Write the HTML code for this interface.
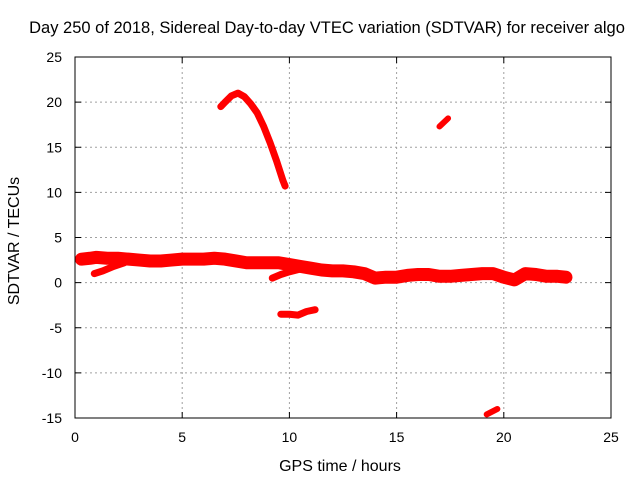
<!DOCTYPE html>
<html><head><meta charset="utf-8"><style>
body{margin:0;background:#fff}
svg{display:block;font-family:"Liberation Sans",sans-serif}
</style></head><body>
<svg id="chart" width="640" height="480">
<text x="327" y="33" font-size="16.5" text-anchor="middle">Day 250 of 2018, Sidereal Day-to-day VTEC variation (SDTVAR) for receiver algo</text>
<g id="grid"></g>
<g id="marks"></g>
<g id="axes"></g>
<text x="340" y="471" font-size="16" text-anchor="middle">GPS time / hours</text>
<text transform="translate(19,241) rotate(-90)" font-size="16" text-anchor="middle">SDTVAR / TECUs</text>
</svg>
<script>
const xTicks=[0,5,10,15,20,25];
const yTicks=[-15,-10,-5,0,5,10,15,20,25];
const mainT=[0.3,0.7,1,1.5,2,2.5,3,3.5,4,4.5,5,5.5,6,6.5,7,7.5,8,8.5,9,9.5,10,10.5,11,11.5,12,12.5,13,13.5,14,14.5,15,15.5,16,16.5,17,17.5,18,18.5,19,19.5,20,20.5,21,21.5,22,22.5,22.9];
const mainV=[2.6,2.7,2.8,2.7,2.7,2.6,2.5,2.4,2.4,2.5,2.6,2.6,2.6,2.7,2.6,2.4,2.2,2.2,2.2,2.2,2.0,1.8,1.6,1.4,1.3,1.3,1.2,1.0,0.5,0.6,0.6,0.8,0.9,0.9,0.7,0.7,0.8,0.9,1.0,1.0,0.6,0.3,1.0,0.9,0.7,0.7,0.6];
const lowT=[0.9,1.3,1.8,2.3];
const lowV=[1.0,1.3,1.8,2.2];
const low2T=[9.2,9.6,10,10.5,11];
const low2V=[0.5,0.9,1.2,1.5,1.8];
const negT=[9.6,10,10.4,10.8,11.2];
const negV=[-3.5,-3.5,-3.6,-3.2,-3.0];
const arcT=[6.8,7.0,7.3,7.6,7.9,8.2,8.5,8.8,9.1,9.4,9.7,9.8];
const arcV=[19.5,20.0,20.7,21.0,20.6,19.8,18.8,17.3,15.5,13.5,11.3,10.7];
const s1T=[17.0,17.4];const s1V=[17.3,18.2];
const s2T=[19.2,19.7];const s2V=[-14.6,-14.0];
const X0=75,X1=611,Y0=418,Y1=57;
const xs=t=>X0+(t-0)/25*(X1-X0);
const ys=v=>Y0-(v+15)/40*(Y0-Y1);
const NS='http://www.w3.org/2000/svg';
function mk(tag,parent,attrs){const e=document.createElementNS(NS,tag);for(const k in attrs)e.setAttribute(k,attrs[k]);parent.appendChild(e);return e;}
const grid=document.getElementById('grid'),axes=document.getElementById('axes'),marks=document.getElementById('marks');
xTicks.forEach(t=>{
 if(t>0&&t<25){const l=mk('line',grid,{x1:xs(t),x2:xs(t),y1:Y1,y2:Y0,stroke:'#a0a0a0','stroke-dasharray':'2,3'});
 
 }
 const tx=mk('text',axes,{x:xs(t),y:442,'font-size':14,'text-anchor':'middle'});tx.textContent=t;
 
 
 mk('line',axes,{x1:xs(t),x2:xs(t),y1:Y0,y2:Y0-6,stroke:'#000'});
 mk('line',axes,{x1:xs(t),x2:xs(t),y1:Y1,y2:Y1+6,stroke:'#000'});
});
yTicks.forEach(v=>{
 if(v>-15&&v<25){const l=mk('line',grid,{x1:X0,x2:X1,y1:ys(v),y2:ys(v),stroke:'#a0a0a0','stroke-dasharray':'2,3'});
 
 }
 const tx=mk('text',axes,{x:62,y:ys(v)+5,'font-size':14,'text-anchor':'end'});tx.textContent=v;
 
 
 mk('line',axes,{x1:X0,x2:X0+6,y1:ys(v),y2:ys(v),stroke:'#000'});
 mk('line',axes,{x1:X1,x2:X1-6,y1:ys(v),y2:ys(v),stroke:'#000'});
});
const fr=mk('rect',axes,{x:X0,y:Y1,width:X1-X0,height:Y0-Y1,fill:'none',stroke:'#000'});


function seg(T,V,w,name){
 const p=mk('polyline',marks,{points:T.map((t,i)=>xs(t)+','+ys(V[i])).join(' '),fill:'none',stroke:'#ff0000','stroke-width':w,'stroke-linejoin':'round','stroke-linecap':'round'});
 
 
}
seg(mainT,mainV,13,'main-band');
seg(lowT,lowV,7,'lower-branch-early');
seg(low2T,low2V,7,'lower-branch-late');
seg(negT,negV,7,'negative-segment');
seg(arcT,arcV,7,'high-arc');
seg(s1T,s1V,6,'short-segment-high');
seg(s2T,s2V,6,'short-segment-low');
</script>
</body></html>
